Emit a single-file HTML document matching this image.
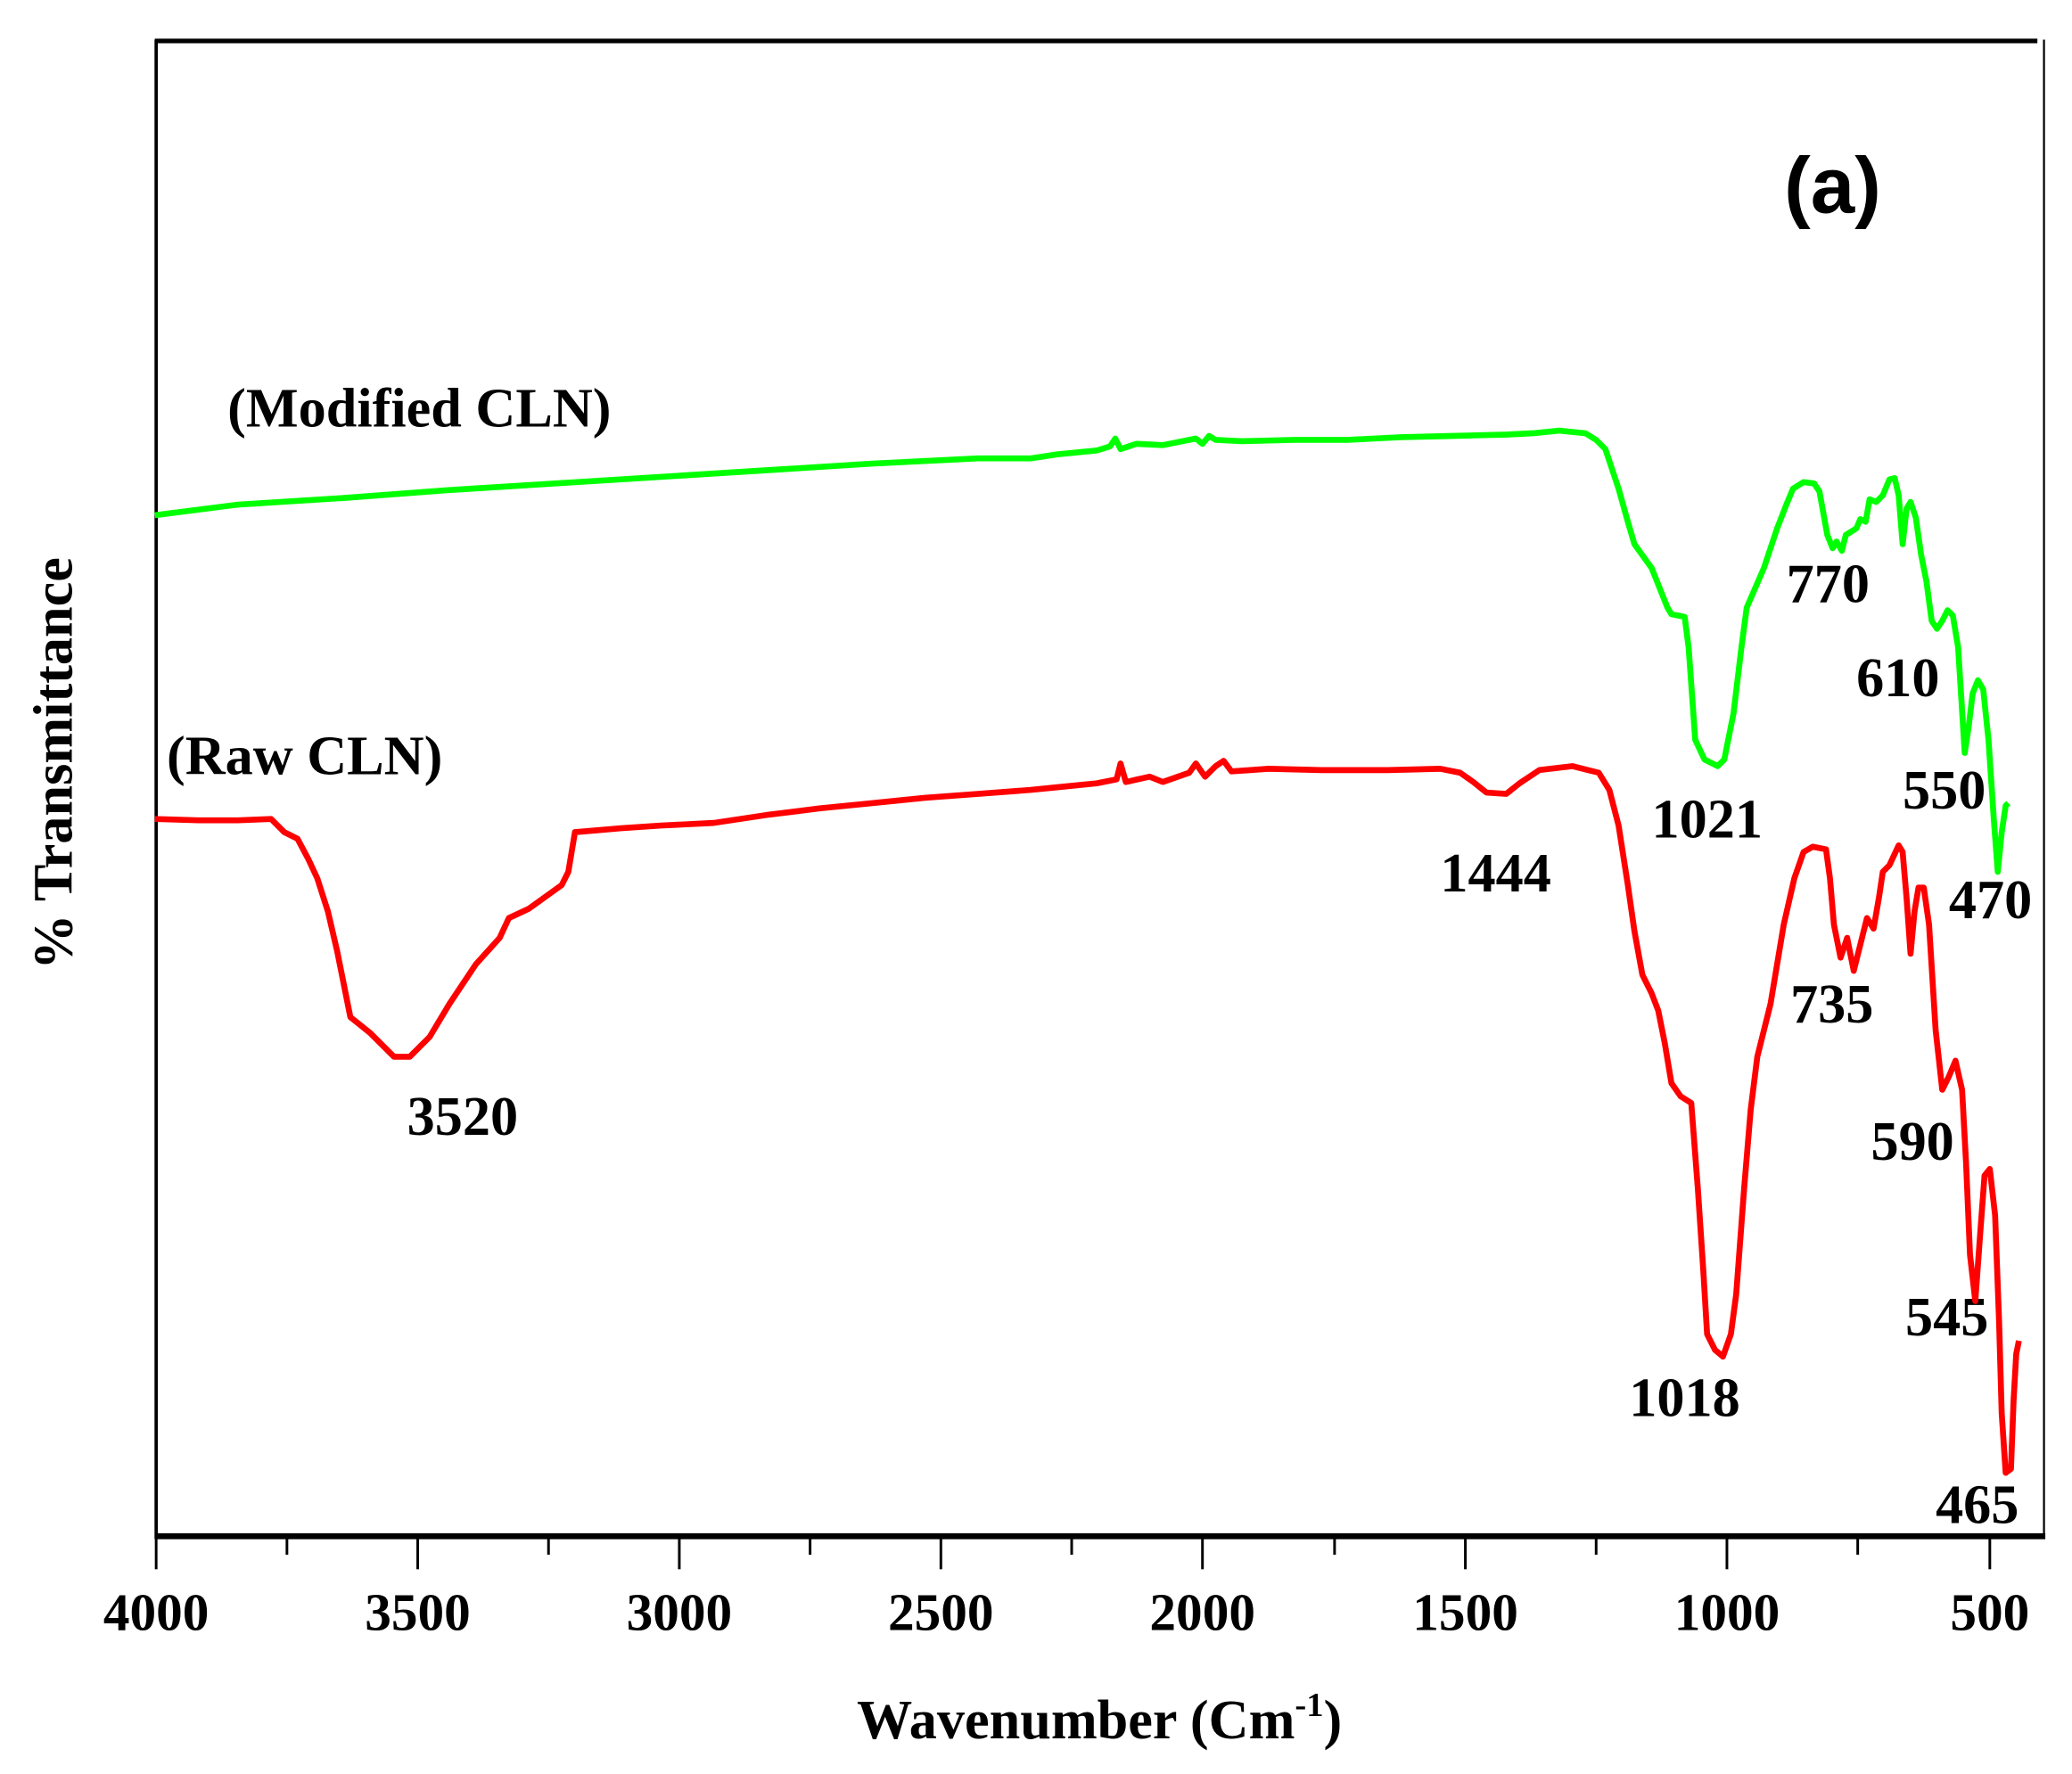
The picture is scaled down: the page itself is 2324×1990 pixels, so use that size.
<!DOCTYPE html>
<html><head><meta charset="utf-8"><style>html,body{margin:0;padding:0;background:#fff}svg{display:block}</style></head>
<body>
<svg width="2324" height="1990" viewBox="0 0 1568 1343" xmlns="http://www.w3.org/2000/svg">
<rect width="1568" height="1343" fill="#fff"/>
<g font-family="Liberation Serif, serif" font-weight="bold" fill="#000">
<line x1="117" y1="31" x2="1542" y2="31" stroke="#000" stroke-width="3.5"/>
<line x1="118" y1="30" x2="118" y2="1165" stroke="#000" stroke-width="2.5"/>
<line x1="1547" y1="30" x2="1547" y2="1165" stroke="#000" stroke-width="1.5"/>
<line x1="117" y1="1163" x2="1548" y2="1163" stroke="#000" stroke-width="4.5"/>
<g stroke="#000" stroke-width="2">
<line x1="118" y1="1163" x2="118" y2="1188"/><line x1="217" y1="1163" x2="217" y2="1177"/>
<line x1="316" y1="1163" x2="316" y2="1188"/><line x1="415" y1="1163" x2="415" y2="1177"/>
<line x1="514" y1="1163" x2="514" y2="1188"/><line x1="613" y1="1163" x2="613" y2="1177"/>
<line x1="712" y1="1163" x2="712" y2="1188"/><line x1="811" y1="1163" x2="811" y2="1177"/>
<line x1="910" y1="1163" x2="910" y2="1188"/><line x1="1010" y1="1163" x2="1010" y2="1177"/>
<line x1="1109" y1="1163" x2="1109" y2="1188"/><line x1="1208" y1="1163" x2="1208" y2="1177"/>
<line x1="1307" y1="1163" x2="1307" y2="1188"/><line x1="1406" y1="1163" x2="1406" y2="1177"/>
<line x1="1506" y1="1163" x2="1506" y2="1188"/>
</g>
<g font-size="40" text-anchor="middle">
<text x="118" y="1234">4000</text><text x="316" y="1234">3500</text><text x="514" y="1234">3000</text>
<text x="712" y="1234">2500</text><text x="910" y="1234">2000</text><text x="1109" y="1234">1500</text>
<text x="1307" y="1234">1000</text><text x="1506" y="1234">500</text>
</g>
<text x="832" y="1316" font-size="42" text-anchor="middle">Wavenumber (Cm<tspan font-size="26" dy="-17">-1</tspan><tspan dy="17">)</tspan></text>
<text transform="translate(54,578) rotate(-90)" font-size="42" text-anchor="middle">% Transmittance</text>
<text x="1387" y="161" font-family="Liberation Sans, sans-serif" font-size="60" text-anchor="middle">(a)</text>
<g font-size="42">
<text x="172" y="323">(Modified CLN)</text>
<text x="126" y="586">(Raw CLN)</text>
<text x="308" y="859">3520</text>
<text x="1090" y="675">1444</text>
<text x="1250" y="634">1021</text>
<text x="1233" y="1072">1018</text>
<text x="1352" y="456">770</text>
<text x="1405" y="527">610</text>
<text x="1440" y="612">550</text>
<text x="1475" y="695">470</text>
<text x="1355" y="774">735</text>
<text x="1416" y="878">590</text>
<text x="1442" y="1011">545</text>
<text x="1465" y="1153">465</text>
</g>
</g>
<polyline fill="none" stroke="#00ff00" stroke-width="4.5" stroke-linejoin="round" points="117,390 180,382 260,377 340,371 420,366 500,361 580,356 660,351 740,347 780,347 800,344 830,341 840,338 844,332 848,340 860,336 880,337 895,334 905,332 910,336 915,330 920,333 940,334 980,333 1020,333 1060,331 1100,330 1140,329 1160,328 1180,326 1200,328 1208,333 1215,340 1220,355 1225,370 1232,395 1237,412 1250,430 1262,460 1265,465 1275,467 1278,490 1283,560 1290,575 1300,580 1305,575 1312,540 1318,490 1322,460 1335,430 1345,400 1352,382 1357,370 1365,365 1373,366 1377,372 1383,405 1387,415 1390,410 1394,417 1397,405 1405,400 1408,393 1412,395 1415,378 1420,380 1425,375 1430,363 1434,362 1437,375 1440,412 1443,385 1446,380 1450,392 1454,420 1458,440 1462,470 1466,476 1470,470 1474,462 1478,466 1482,490 1487,570 1490,550 1493,525 1497,515 1501,522 1505,560 1509,620 1512,660 1515,630 1518,610 1520,608"/>
<polyline fill="none" stroke="#ff0000" stroke-width="4.5" stroke-linejoin="round" points="117,620 150,621 180,621 205,620 215,630 225,635 233,650 240,665 248,690 255,720 265,770 280,782 298,800 310,800 325,785 340,760 360,730 378,710 385,695 400,688 425,670 430,660 435,630 470,627 500,625 540,623 580,617 620,612 660,608 700,604 740,601 780,598 800,596 830,593 845,590 848,578 852,592 870,588 880,592 900,585 905,578 912,588 920,580 926,576 932,584 960,582 1000,583 1050,583 1090,582 1105,585 1115,592 1125,600 1140,601 1150,593 1165,583 1190,580 1210,585 1218,598 1225,625 1232,670 1237,705 1243,738 1250,752 1255,765 1260,790 1265,820 1272,830 1280,835 1285,900 1289,960 1292,1010 1298,1022 1304,1027 1310,1010 1314,980 1320,900 1325,840 1330,800 1340,760 1350,700 1358,665 1365,645 1372,641 1382,643 1385,665 1388,700 1393,725 1398,710 1403,735 1408,715 1413,695 1418,703 1422,680 1425,660 1430,655 1437,640 1440,645 1443,680 1446,722 1449,690 1452,672 1456,672 1460,700 1465,780 1470,825 1475,815 1480,803 1485,825 1488,880 1491,950 1495,985 1499,930 1502,890 1506,885 1510,920 1513,1000 1515,1070 1518,1115 1522,1112 1524,1060 1526,1025 1528,1015"/>
</svg>
</body></html>
